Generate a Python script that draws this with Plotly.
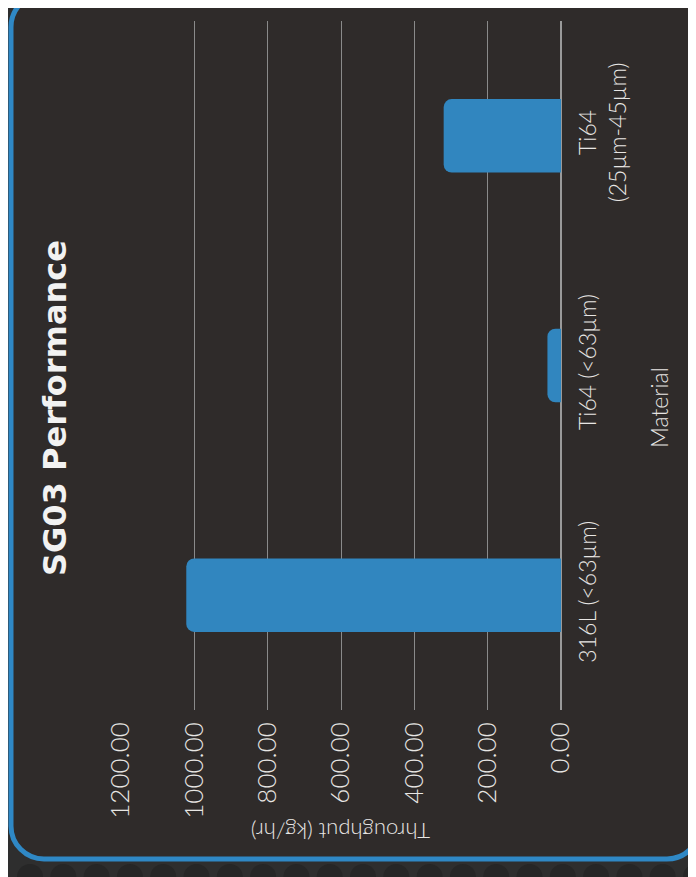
import plotly.graph_objects as go

# ---- data ----
categories = ["316L (<63µm)", "Ti64 (<63µm)", "Ti64<br>(25µm-45µm)"]
throughput = [1022, 37, 320]
tick_values = [0, 200, 400, 600, 800, 1000, 1200]
chart_title = "SG03 Performance"
x_title = "Material"
y_title = "Throughput (kg/hr)"

# ---- layout geometry (pixels, in screenshot coordinates) ----
OFF = 8  # page body margin
W, H = 696, 877
PL, PR, PT, PB = 121, 561, 21, 710  # plot area edges in screenshot px
PW = PR - PL
PH = PB - PT
L = PL - OFF
T = PT - OFF
R = W - L - PW
B = H - T - PH


def px(x):
    return (x - PL) / PW


def py(y):
    return (PB - y) / PH


TEXT = "#e8e6e4"
FONT = "Lato Light, Lato"

fig = go.Figure(
    go.Bar(
        x=throughput,
        y=categories,
        orientation="h",
        width=0.32,
        marker=dict(color="#3186bf", line=dict(width=0)),
        hoverinfo="skip",
    )
)

# rounded panel with blue border
x0, x1, y0, y1, r = 11, 700, -6, 859, 33
k = 0.5523 * r


def P(x, y):
    return f"{px(x):.5f},{py(y):.5f}"


path = (
    f"M {P(x0 + r, y0)} L {P(x1 - r, y0)} "
    f"C {P(x1 - r + k, y0)} {P(x1, y0 + r - k)} {P(x1, y0 + r)} "
    f"L {P(x1, y1 - r)} "
    f"C {P(x1, y1 - r + k)} {P(x1 - r + k, y1)} {P(x1 - r, y1)} "
    f"L {P(x0 + r, y1)} "
    f"C {P(x0 + r - k, y1)} {P(x0, y1 - r + k)} {P(x0, y1 - r)} "
    f"L {P(x0, y0 + r)} "
    f"C {P(x0, y0 + r - k)} {P(x0 + r - k, y0)} {P(x0 + r, y0)} Z"
)

shapes = []
# subtle background dot pattern outside the panel
for i in range(22):
    cx = 30 + i * 33.3
    shapes.append(dict(type="circle", xref="paper", yref="paper",
                       x0=px(cx - 13), x1=px(cx + 13), y0=py(890), y1=py(864),
                       fillcolor="#262626", line=dict(width=0), layer="below"))
for j in range(18):
    cy = 28 + j * 50
    shapes.append(dict(type="circle", xref="paper", yref="paper",
                       x0=px(-14), x1=px(8), y0=py(cy + 11), y1=py(cy - 11),
                       fillcolor="#262626", line=dict(width=0), layer="below"))

shapes.append(dict(type="path", xref="paper", yref="paper", path=path,
                   fillcolor="#2f2b2a", line=dict(color="#2f88c5", width=5),
                   layer="below"))

annotations = [
    dict(text=f"<b>{chart_title}</b>", x=px(55), y=py(408), xref="paper", yref="paper",
         textangle=-90, showarrow=False, xanchor="center", yanchor="middle",
         font=dict(family="DejaVu Sans", size=32, color="#f2f2f2")),
    dict(text=x_title, x=px(659), y=py(408), xref="paper", yref="paper",
         textangle=-90, showarrow=False, xanchor="center", yanchor="middle",
         font=dict(family=FONT, size=23, color=TEXT, weight=300)),
    dict(text=y_title, x=px(341), y=py(832), xref="paper", yref="paper",
         textangle=180, showarrow=False, xanchor="center", yanchor="middle",
         font=dict(family=FONT, size=22, color=TEXT, weight=300)),
]

fig.update_layout(
    width=W,
    height=H,
    margin=dict(l=L, r=R, t=T, b=B, pad=0),
    paper_bgcolor="#2e2e2e",
    plot_bgcolor="rgba(0,0,0,0)",
    showlegend=False,
    barcornerradius=8,
    shapes=shapes,
    annotations=annotations,
    xaxis=dict(
        range=[1200, 0],
        tickvals=tick_values,
        tickformat=".2f",
        tickangle=-90,
        showgrid=True,
        gridcolor="#8a8a8a",
        gridwidth=1,
        zeroline=True,
        zerolinecolor="#9a9a9a",
        zerolinewidth=1.5,
        showline=False,
        ticks="",
        ticklabelstandoff=6,
        tickfont=dict(family=FONT, size=26, color=TEXT, weight=300),
        fixedrange=True,
    ),
    yaxis=dict(
        side="right",
        range=[-0.5, 2.5],
        tickangle=-90,
        showgrid=False,
        zeroline=False,
        showline=False,
        ticks="",
        ticklabelstandoff=11,
        tickfont=dict(family=FONT, size=23, color=TEXT, weight=300),
        fixedrange=True,
    ),
)

fig.write_html("out.html")
